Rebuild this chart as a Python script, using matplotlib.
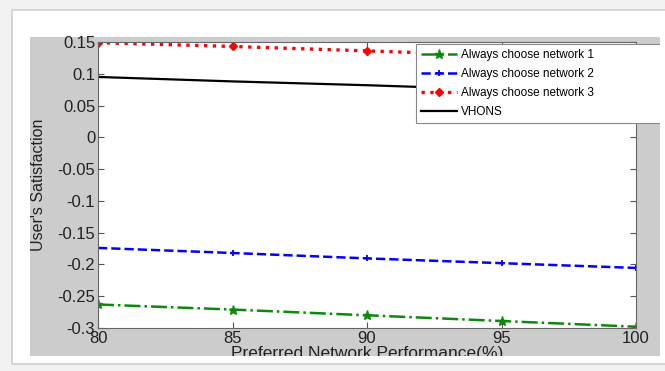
import matplotlib
matplotlib.use("Agg")
import matplotlib.pyplot as plt
from matplotlib.patches import Rectangle
import numpy as np

plt.rcParams['font.family'] = ['Liberation Sans', 'DejaVu Sans']
plt.rcParams['axes.unicode_minus'] = False

# Preferred network performance (%)
perf = [80, 85, 90, 95, 100]

# User's satisfaction for each strategy
net1 = [-0.263, -0.271, -0.280, -0.289, -0.298]
net2 = [-0.174, -0.182, -0.1905, -0.198, -0.2055]
net3 = [0.149, 0.143, 0.136, 0.129, 0.122]
vhons = [0.095, 0.088, 0.082, 0.075, 0.069]

labels = ["Always choose network 1", "Always choose network 2",
          "Always choose network 3", "VHONS"]

W, H = 665, 371
fig = plt.figure(figsize=(W / 100, H / 100), dpi=100, facecolor="#f2f2f2")

def px_rect(x0, y0, x1, y1, **kw):
    # rectangle given in pixels from the top-left corner
    return Rectangle((x0 / W, 1 - y1 / H), (x1 - x0) / W, (y1 - y0) / H,
                     transform=fig.transFigure, **kw)

# page and the grey figure panel behind the axes
fig.patches.append(px_rect(12, 10, 665, 364, facecolor="white", edgecolor="none", zorder=-2))
fig.patches.append(px_rect(30, 37, 660, 356, facecolor="#cccccc", edgecolor="none", zorder=-1))

ax = fig.add_axes([98 / W, 1 - 328 / H, (636 - 98) / W, (328 - 42) / H])
ax.set_facecolor("white")

ax.plot(perf, net1, color="#0a8a0a", ls="-.", lw=1.8, marker="*", ms=6.5, label=labels[0])
ax.plot(perf, net2, color="#0000ff", ls="--", lw=1.8, marker="+", ms=5, mew=1.3, label=labels[1])
ax.plot(perf, net3, color="#ff0000", ls=":", lw=2.4, marker="D", ms=4.5, label=labels[2])
ax.plot(perf, vhons, color="black", ls="-", lw=1.6, label=labels[3])

ax.set_xlim(80, 100)
ax.set_ylim(-0.3, 0.15)
ax.set_xticks(np.arange(80, 101, 5))
yt = np.round(np.arange(-0.3, 0.151, 0.05), 2) + 0.0
ax.set_yticks(yt)
ax.set_yticklabels(["0" if abs(v) < 1e-9 else "%g" % v for v in yt])

ax.tick_params(direction="in", length=4, width=0.8, top=True, right=True,
               labelsize=12, colors="#555555", labelcolor="#222222")
ax.tick_params(axis="x", pad=2)
ax.tick_params(axis="y", pad=2)
for s in ax.spines.values():
    s.set_color("#666666")
    s.set_linewidth(0.8)

ax.set_xlabel("Preferred Network Performance(%)", fontsize=12.5, color="#222222", labelpad=0)
ax.set_ylabel("User's Satisfaction", fontsize=11.5, color="#222222", labelpad=8)

leg = ax.legend(loc="upper left", bbox_to_anchor=(0.591, 0.0, 0.47, 0.993), mode="expand",
                borderaxespad=0, fontsize=8.5, numpoints=1, handlelength=3.0,
                handletextpad=0.35, labelspacing=0.58, borderpad=0.45,
                fancybox=False, framealpha=1, edgecolor="#888888")
leg.get_frame().set_linewidth(0.8)

# white margin that crops the panel at the bottom and right
fig.patches.append(px_rect(12, 356, 665, 364, facecolor="white", edgecolor="none", zorder=5))
fig.patches.append(px_rect(660, 10, 665, 364, facecolor="white", edgecolor="none", zorder=5))
fig.patches.append(px_rect(0, 364, 665, 371, facecolor="#f2f2f2", edgecolor="none", zorder=5))
fig.patches.append(px_rect(12, 10, 666, 364, facecolor="none", edgecolor="#cfcfcf", lw=1.2, zorder=6))

fig.savefig("out.png", dpi=100, facecolor=fig.get_facecolor())
